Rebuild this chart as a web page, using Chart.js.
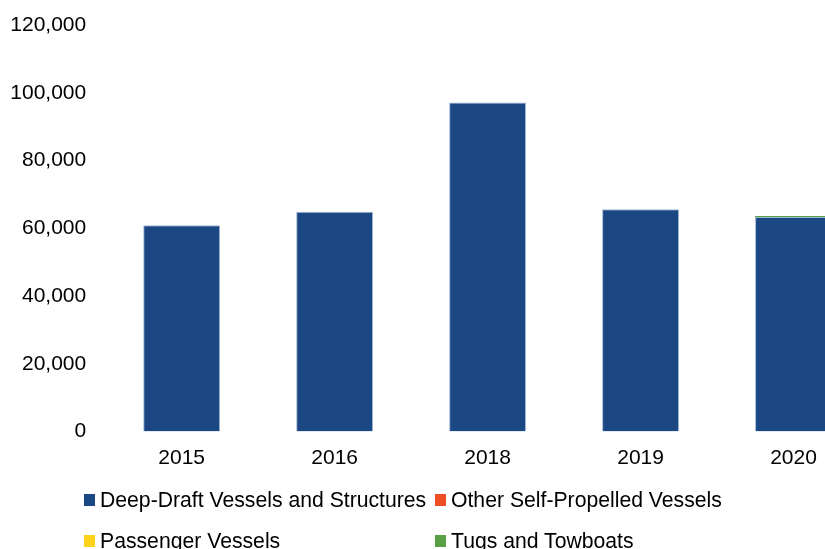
<!DOCTYPE html>
<html>
<head>
<meta charset="utf-8">
<script src="https://cdn.jsdelivr.net/npm/chart.js@4"></script>
<style>
  html, body { margin: 0; padding: 0; overflow: hidden; background: #fff; width: 825px; height: 549px; }
  #wrap { position: absolute; left: 0; top: 0; width: 880px; height: 480px; }
  #legend { position: absolute; left: 0; top: 0; width: 825px; height: 549px; pointer-events: none;
            font-family: "Liberation Sans", Arial, sans-serif; font-size: 21.2px; color: #000; }
  .item { position: absolute; display: flex; align-items: center; height: 24px; line-height: 24px; white-space: nowrap; }
  .sw { width: 11px; height: 12px; margin-right: 5px; flex: none; }
</style>
</head>
<body>
<div id="wrap"><canvas id="c" width="880" height="480"></canvas></div>
<div id="legend"></div>
<script>
const categories = ['2015', '2016', '2018', '2019', '2020'];
const deepDraft = [60900, 64900, 97100, 65600, 63300];
const otherSelfPropelled = [0, 0, 0, 0, 0];
const passenger = [0, 0, 0, 0, 0];
const tugs = [0, 0, 0, 0, 350];
const seriesNames = ['Deep-Draft Vessels and Structures', 'Other Self-Propelled Vessels', 'Passenger Vessels', 'Tugs and Towboats'];
const seriesColors = ['#1B4783', '#EE4E24', '#FFD21C', '#5A9E45'];
const yMax = 120000;
const yStep = 20000;

const font = { family: '"Liberation Sans", Arial, sans-serif', size: 21 };
const values = [deepDraft, otherSelfPropelled, passenger, tugs];

const chart = new Chart(document.getElementById('c'), {
  type: 'bar',
  data: {
    labels: categories,
    datasets: values.map((v, i) => ({
      label: seriesNames[i],
      data: v,
      backgroundColor: seriesColors[i],
      borderColor: i === 0 ? 'rgba(150,175,210,0.9)' : seriesColors[i],
      borderWidth: i === 0 ? 1 : 0,
      borderSkipped: 'bottom',
      categoryPercentage: 1,
      barPercentage: 0.503
    }))
  },
  options: {
    responsive: false,
    animation: false,
    layout: { padding: { left: 0, right: 10, top: 25, bottom: 0 } },
    plugins: { legend: { display: false }, tooltip: { enabled: false } },
    scales: {
      x: {
        stacked: true,
        grid: { display: false, drawTicks: false },
        border: { display: false },
        ticks: { color: '#000', font: font, padding: 14, maxRotation: 0 },
        afterFit: s => { s.height = 48.5; }
      },
      y: {
        stacked: true,
        min: 0, max: yMax,
        grid: { display: false, drawTicks: false },
        border: { display: false },
        ticks: { stepSize: yStep, color: '#000', font: font, padding: 19,
                 callback: v => Number(v).toLocaleString('en-US') },
        afterFit: s => { s.width = 105.2; s.paddingTop = 12; s.paddingBottom = 12; }
      }
    }
  }
});

// legend (two columns, Excel-style)
const leg = document.getElementById('legend');
chart.data.datasets.forEach((ds, i) => {
  const col = i % 2, row = Math.floor(i / 2);
  const d = document.createElement('div');
  d.className = 'item';
  d.style.left = (84 + col * 351) + 'px';
  d.style.top = (500 + row * 41 - 12) + 'px';
  const sw = document.createElement('span');
  sw.className = 'sw';
  sw.style.background = ds.backgroundColor;
  const t = document.createElement('span');
  t.textContent = ds.label;
  d.appendChild(sw); d.appendChild(t);
  leg.appendChild(d);
});
</script>
</body>
</html>
